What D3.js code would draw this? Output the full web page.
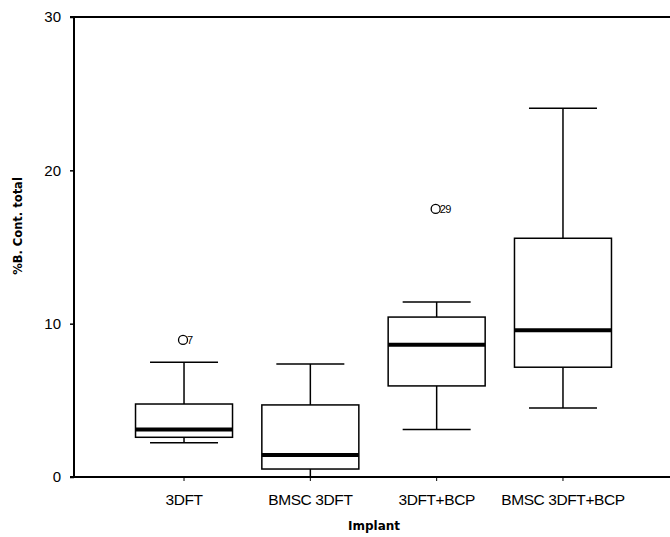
<!DOCTYPE html>
<html>
<head>
<meta charset="utf-8">
<script src="https://cdn.jsdelivr.net/npm/d3@7"></script>
<style>
  body { margin: 0; background: #fff; }
  svg { display: block; }
</style>
</head>
<body>
<div id="chart"></div>
<script>
// values
var categories = ["3DFT", "BMSC 3DFT", "3DFT+BCP", "BMSC 3DFT+BCP"];
var whiskerLow  = [2.24, 0.0, 3.09, 4.5];
var q1          = [2.59, 0.52, 5.94, 7.16];
var medians     = [3.09, 1.43, 8.63, 9.57];
var q3          = [4.76, 4.70, 10.43, 15.57];
var whiskerHigh = [7.48, 7.37, 11.41, 24.05];
var outlierCats   = ["3DFT", "3DFT+BCP"];
var outlierValues = [8.94, 17.48];
var outlierLabels = ["7", "29"];
var yTicks = [0, 10, 20, 30];

var boxData = categories.map(function(c, i) {
    return {cat: c, lo: whiskerLow[i], q1: q1[i], med: medians[i], q3: q3[i], hi: whiskerHigh[i]};
});
var outData = outlierCats.map(function(c, i) {
    return {cat: c, value: outlierValues[i], label: outlierLabels[i]};
});

// plot dimensions
var W = 670, H = 537;
var p_left = 74, p_top = 17, p_bottom = 477;

var svg = d3.select("#chart").append("svg")
    .attr("width", W)
    .attr("height", H);

var x = d3.scaleBand()
    .domain(categories)
    .range([p_left, 673])
    .paddingInner(0)
    .paddingOuter(0.371);

var y = d3.scaleLinear()
    .domain([0, 30])
    .range([p_bottom, p_top]);

var boxW = 97, capW = 68;

// frame: top line
svg.append("line")
    .attr("x1", 70).attr("x2", W)
    .attr("y1", p_top).attr("y2", p_top)
    .attr("stroke", "#000").attr("stroke-width", 2);

// Y axis
var yAxis = svg.append("g")
    .attr("transform", "translate(" + p_left + ",0)")
    .call(d3.axisLeft(y).tickValues(yTicks).tickSize(4).tickPadding(9).tickFormat(d3.format("d")));
yAxis.select(".domain").attr("stroke", "#000").attr("stroke-width", 2)
    .attr("d", "M0," + p_top + "V" + p_bottom);
yAxis.selectAll(".tick line").attr("stroke", "#000").attr("stroke-width", 1.5);
yAxis.selectAll(".tick text")
    .attr("fill", "#000")
    .style("font-family", "'Liberation Sans', Arial, sans-serif")
    .style("font-size", "15px");

// X axis
var xAxis = svg.append("g")
    .attr("transform", "translate(0," + p_bottom + ")")
    .call(d3.axisBottom(x).tickSize(4).tickPadding(10));
xAxis.select(".domain").attr("stroke", "#000").attr("stroke-width", 2)
    .attr("d", "M70,0H" + W);
xAxis.selectAll(".tick line").attr("stroke", "#000").attr("stroke-width", 1);
xAxis.selectAll(".tick text")
    .attr("fill", "#000")
    .attr("dy", "0.9em")
    .style("font-family", "'Liberation Sans', Arial, sans-serif")
    .style("font-size", "15.5px")
    .style("letter-spacing", "-0.4px");

// axis titles
svg.append("text")
    .attr("x", 374).attr("y", 530)
    .attr("text-anchor", "middle")
    .style("font-family", "'DejaVu Sans', sans-serif")
    .style("font-weight", "bold")
    .style("font-size", "12px")
    .text("Implant");

svg.append("text")
    .attr("transform", "translate(22,226) rotate(-90)")
    .attr("text-anchor", "middle")
    .style("font-family", "'DejaVu Sans', sans-serif")
    .style("font-weight", "bold")
    .style("font-size", "11.5px")
    .text("%B. Cont. total");

// boxes
var g = svg.selectAll(".box")
    .data(boxData)
    .enter().append("g")
    .attr("class", "box");

function cx(d) { return x(d.cat) + x.bandwidth() / 2; }

// whiskers
g.append("line")
    .attr("x1", cx).attr("x2", cx)
    .attr("y1", function(d) { return y(d.hi); })
    .attr("y2", function(d) { return y(d.q3); })
    .attr("stroke", "#000").attr("stroke-width", 1.5);
g.append("line")
    .attr("x1", cx).attr("x2", cx)
    .attr("y1", function(d) { return y(d.q1); })
    .attr("y2", function(d) { return y(d.lo); })
    .attr("stroke", "#000").attr("stroke-width", 1.5);
// caps
g.append("line")
    .attr("x1", function(d) { return cx(d) - capW / 2; })
    .attr("x2", function(d) { return cx(d) + capW / 2; })
    .attr("y1", function(d) { return y(d.hi); })
    .attr("y2", function(d) { return y(d.hi); })
    .attr("stroke", "#000").attr("stroke-width", 1.5);
g.append("line")
    .attr("x1", function(d) { return cx(d) - capW / 2; })
    .attr("x2", function(d) { return cx(d) + capW / 2; })
    .attr("y1", function(d) { return y(d.lo); })
    .attr("y2", function(d) { return y(d.lo); })
    .attr("stroke", "#000").attr("stroke-width", 1.5);

g.append("rect")
    .attr("x", function(d) { return cx(d) - boxW / 2; })
    .attr("y", function(d) { return y(d.q3); })
    .attr("width", boxW)
    .attr("height", function(d) { return y(d.q1) - y(d.q3); })
    .attr("fill", "#fff")
    .attr("stroke", "#000").attr("stroke-width", 1.5);

g.append("line")
    .attr("x1", function(d) { return cx(d) - boxW / 2; })
    .attr("x2", function(d) { return cx(d) + boxW / 2; })
    .attr("y1", function(d) { return y(d.med); })
    .attr("y2", function(d) { return y(d.med); })
    .attr("stroke", "#000").attr("stroke-width", 4);

// outliers
var o = svg.selectAll(".outlier")
    .data(outData)
    .enter().append("g")
    .attr("class", "outlier");
o.append("circle")
    .attr("cx", function(d) { return x(d.cat) + x.bandwidth() / 2 - 1; })
    .attr("cy", function(d) { return y(d.value); })
    .attr("r", 4.5)
    .attr("fill", "#fff")
    .attr("stroke", "#000").attr("stroke-width", 1.3);
o.append("text")
    .attr("x", function(d) { return x(d.cat) + x.bandwidth() / 2 + 3; })
    .attr("y", function(d) { return y(d.value); })
    .attr("dy", "0.35em")
    .style("font-family", "'Liberation Sans', Arial, sans-serif")
    .style("font-size", "11px")
    .style("letter-spacing", "-0.5px")
    .text(function(d) { return d.label; });
</script>
</body>
</html>
